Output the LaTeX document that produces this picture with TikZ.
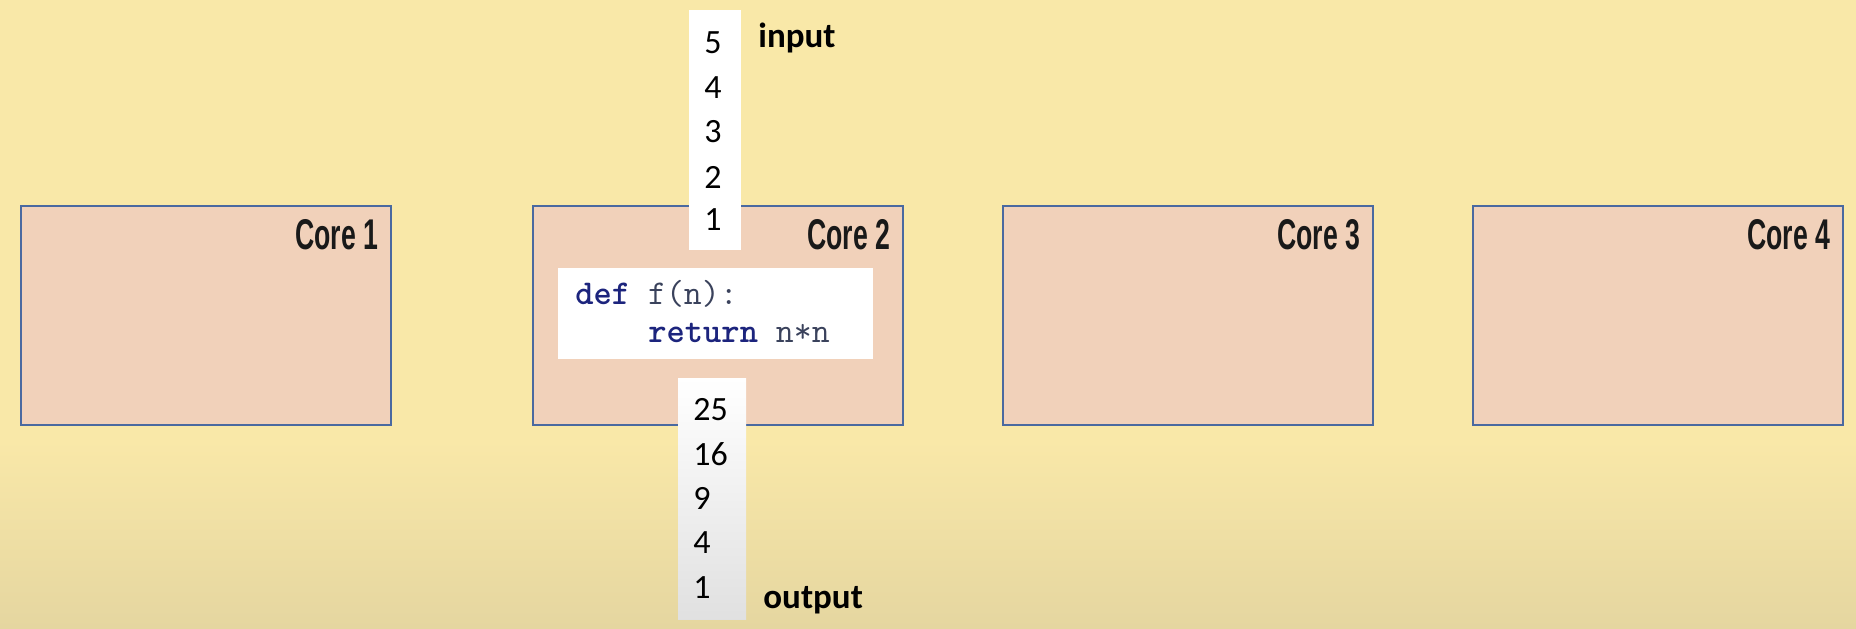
\documentclass[tikz,border=0pt]{standalone}
\usepackage{fontspec}
\setmainfont{Carlito}
\newfontfamily\corefont[FakeStretch=0.62]{Liberation Sans Bold}
\usepackage{tikz}
\usetikzlibrary{positioning}

\definecolor{bgyellow}{RGB}{249,232,168}
\definecolor{bgbottom}{RGB}{229,214,160}
\definecolor{corefill}{RGB}{241,209,186}
\definecolor{coreline}{RGB}{74,105,160}
\definecolor{codeblue}{RGB}{28,36,125}
\definecolor{codegray}{RGB}{58,66,92}

\tikzset{
	core/.style={draw=coreline,
		line width=0.75pt,
		fill=corefill,
		minimum width=185pt,
		minimum height=109.5pt,
		inner sep=0pt,
		anchor=north west},
	corelabel/.style={font=\corefont\fontsize{21.5}{24}\selectfont,
		text=black!90,
		inner sep=0pt,
		anchor=base east},
	numtext/.style={font=\fontsize{17}{20}\selectfont, inner sep=0pt},
	tagtext/.style={font=\bfseries\fontsize{17.5}{20}\selectfont,
		inner sep=0pt,
		anchor=base west},
	codetext/.style={font=\ttfamily\fontsize{17.4}{20}\selectfont,
		inner sep=0pt,
		anchor=base west}
}

\begin{document}
\begin{tikzpicture}[x=0.5pt,y=-0.5pt]

% Background
\useasboundingbox (0,0) rectangle (1856,628);
\fill[bgyellow] (0,0) rectangle (1856,628);
\shade[top color=bgyellow, bottom color=bgbottom] (0,440) rectangle (1856,628);

% Core boxes
\foreach \i/\x in {1/20,2/532,3/1002,4/1472}{
	\node[core] (core\i) at (\x,205) {};
	\node[corelabel] at ([xshift=-6.5pt,yshift=-22pt]core\i.north east) {Core \i};
}

% Input strip
\node[fill=white,
	minimum width=26pt,
	minimum height=120pt,
	inner sep=0pt,
	anchor=north west
] (instrip) at (689,10) {};

\foreach \n/\y in {5/43,4/88,3/132,2/177,1/220}
	\node[numtext] (in\n) at (713,\y) {\n};

\node[tagtext] (inputlabel) at (758,47) {input};

% Function box
\node[fill=white,
	minimum width=157.5pt,
	minimum height=45.5pt,
	inner sep=0pt,
	anchor=north west
] (func) at (558,268) {};

\node[codetext] (defline) at (575,304)
	{\textcolor{codeblue}{\bfseries def} \textcolor{codegray}{f(n):}};
\node[codetext] (retline) at (648,342)
	{\textcolor{codeblue}{\bfseries return} \textcolor{codegray}{n*n}};

% Output strip
\shade[top color=white, bottom color=black!12]
	(678,378) rectangle (746,619);
\coordinate (outstrip) at (712,378);

\foreach \n/\y in {25/410,16/454,9/498,4/543,1/588}
	\node[numtext, anchor=west] (out\n) at (693,\y) {\n};

\node[tagtext] (outputlabel) at (763,608) {output};

\end{tikzpicture}
\end{document}
